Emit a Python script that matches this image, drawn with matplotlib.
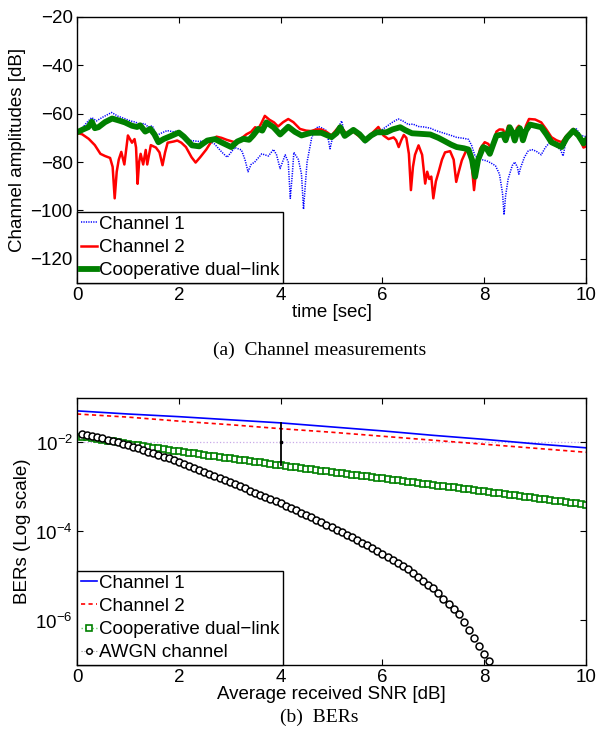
import numpy as np
import matplotlib
matplotlib.use('Agg')
import matplotlib.pyplot as plt

plt.rcParams['font.family'] = ['Liberation Sans', 'DejaVu Sans']
plt.rcParams['mathtext.fontset'] = 'custom'
plt.rcParams['mathtext.rm'] = 'Liberation Sans'
plt.rcParams['mathtext.it'] = 'Liberation Sans'
plt.rcParams['mathtext.default'] = 'rm'

ch1_t = [0.0, 0.1, 0.2, 0.29, 0.38, 0.5, 0.68, 0.8, 0.93, 1.05, 1.15, 1.24, 1.32, 1.4, 1.48,
         1.56, 1.66, 1.77, 1.9, 2.0, 2.1, 2.2, 2.4, 2.56, 2.7, 2.85, 2.95, 3.1, 3.23, 3.3,
         3.36, 3.42, 3.49, 3.63, 3.76, 3.86, 3.92, 3.99, 4.09, 4.15, 4.19, 4.23, 4.26, 4.35,
         4.41, 4.45, 4.49, 4.52, 4.61, 4.68, 4.74, 4.82, 4.9, 4.94, 4.97, 5.03, 5.1, 5.2,
         5.26, 5.35, 5.43, 5.55, 5.66, 5.78, 5.89, 6.0, 6.08, 6.2, 6.31, 6.4, 6.51, 6.6,
         6.71, 6.82, 6.94, 7.05, 7.2, 7.35, 7.46, 7.6, 7.69, 7.75, 7.82, 7.95, 8.05, 8.14,
         8.22, 8.3, 8.36, 8.39, 8.42, 8.47, 8.55, 8.6, 8.65, 8.68, 8.72, 8.79, 8.86, 8.93,
         9.02, 9.12, 9.2, 9.29, 9.36, 9.42, 9.5, 9.55, 9.6, 9.7, 9.8, 9.9, 10.0]
ch1_db = [-68, -66, -63.5, -61.6, -63, -61.5, -59.5, -61, -62, -63, -63.5, -64.5, -64, -65.5, -65,
          -69, -68, -67, -67.5, -67, -69, -71, -71.5, -71, -72.5, -76, -78, -74, -75, -79,
          -84, -81, -80, -76.6, -77.5, -74.8, -77, -82.7, -77, -80, -95, -85, -76, -79,
          -85, -99.5, -88, -80, -70, -66.5, -65.3, -66, -67, -71, -74.5, -69, -67, -63,
          -69, -68, -66.5, -69, -72, -69.5, -68, -66.5, -65.3, -63.5, -62.2, -63, -64.5, -64.3,
          -65.3, -65.5, -66, -67, -68, -69, -69.8, -70.2, -70.6, -73, -77.5, -79, -79.5, -80.5,
          -81.5, -85, -93, -101.8, -94, -87, -81.5, -80, -82, -85, -82, -78, -75.5, -74.8,
          -75.5, -77, -74, -71.8, -72.5, -73.5, -75, -77.5, -72, -67.5, -66, -69, -69.5]

ch2_t = [0.0, 0.1, 0.23, 0.35, 0.46, 0.55, 0.65, 0.7, 0.74, 0.78, 0.82, 0.87, 0.93, 1.0, 1.08,
         1.13, 1.16, 1.19, 1.22, 1.25, 1.3, 1.35, 1.38, 1.45, 1.55, 1.62, 1.68, 1.73, 1.78, 1.9,
         1.97, 2.05, 2.14, 2.25, 2.33, 2.42, 2.54, 2.64, 2.74, 2.84, 2.94, 3.05, 3.14, 3.24,
         3.33, 3.42, 3.5, 3.56, 3.62, 3.69, 3.78, 3.87, 3.95, 4.05, 4.15, 4.25, 4.38, 4.5,
         4.6, 4.7, 4.8, 4.9, 5.0, 5.1, 5.17, 5.3, 5.43, 5.55, 5.66, 5.8, 5.92, 6.02, 6.12,
         6.22, 6.27, 6.32, 6.37, 6.42, 6.47, 6.52, 6.56, 6.6, 6.64, 6.71, 6.78, 6.84, 6.88,
         6.92, 6.96, 7.0, 7.05, 7.1, 7.17, 7.23, 7.33, 7.4, 7.45, 7.5, 7.56, 7.63, 7.69, 7.75,
         7.8, 7.86, 7.92, 8.01, 8.08, 8.14, 8.19, 8.24, 8.3, 8.37, 8.42, 8.47, 8.53, 8.59,
         8.64, 8.68, 8.72, 8.76, 8.82, 8.88, 9.0, 9.12, 9.22, 9.32, 9.42, 9.52, 9.62, 9.75,
         9.85, 9.95, 10.0]
ch2_db = [-68, -68.5, -70.4, -73, -76.6, -77.5, -78.3, -82, -95, -84, -79, -75.8, -81, -69, -72,
          -70.5, -74, -89, -80, -76.6, -81, -75, -81, -73, -74, -76, -81.3, -76, -72, -71.5,
          -71.1, -72, -73.8, -78, -80.2, -78, -74.8, -71.5, -69.5, -70, -70.8, -71.5, -72, -70,
          -68.5, -67.5, -65.6, -66.3, -64, -60.9, -62.5, -63.6, -65.3, -63.5, -62.2, -63.5, -66.3, -67,
          -67.2, -66.5, -66.5, -67.5, -69, -66.5, -65, -68.5, -67.5, -69.5, -71.1, -68, -65.5, -69, -70.5,
          -69.8, -71, -73.8, -71, -68.8, -70, -76.6, -91.6, -82, -77, -73.1, -77, -88.9, -84,
          -87, -86, -95, -88, -84.4, -79, -76, -75.5, -79, -88.2, -84, -79.3, -76, -74.8, -80,
          -91.6, -80, -74.5, -71.8, -72.5, -74.6, -71, -67.4, -66.5, -66.6, -69, -65, -67, -71,
          -66, -65, -67, -70, -65, -62.2, -62.4, -63.6, -66.5, -69.7, -71, -71.8, -69, -66.3,
          -69, -74, -73.5]

coop_t = [0.0, 0.12, 0.22, 0.29, 0.35, 0.42, 0.55, 0.69, 0.82, 0.94, 1.08, 1.18, 1.24, 1.34,
          1.44, 1.52, 1.6, 1.7, 1.87, 2.0, 2.1, 2.26, 2.4, 2.56, 2.71, 2.85, 3.03, 3.15, 3.27,
          3.38, 3.46, 3.56, 3.64, 3.72, 3.86, 3.99, 4.15, 4.28, 4.41, 4.6, 4.8, 4.9, 5.0, 5.1,
          5.17, 5.26, 5.43, 5.55, 5.66, 5.78, 5.89, 6.08, 6.2, 6.35, 6.45, 6.58, 6.94, 7.1, 7.2,
          7.35, 7.46, 7.6, 7.69, 7.76, 7.82, 7.88, 7.98, 8.05, 8.11, 8.18, 8.24, 8.37, 8.42, 8.5,
          8.55, 8.6, 8.65, 8.7, 8.73, 8.76, 8.82, 8.9, 9.12, 9.22, 9.32, 9.52, 9.62, 9.75, 9.85,
          9.95, 10.0]
coop_db = [-67.7, -66.5, -65.6, -63.3, -66, -65.6, -63.5, -62, -62.8, -63.6, -65, -65.5, -64.8, -67.4,
           -66.3, -68.5, -71.8, -70.5, -69, -67.8, -69.5, -73.1, -73.5, -71.1, -70.5, -72, -73.8, -71.5, -70.4,
           -70.8, -69, -66.3, -67, -63.6, -65.6, -68.6, -65.4, -67.5, -69, -67.9, -67.9, -68.8, -69.7, -68,
           -65.6, -69.2, -66.7, -68.5, -71.1, -69, -67.7, -67.7, -66.5, -65.6, -66.8, -68.1, -68.6, -70, -71.1,
           -72.8, -73.8, -74.3, -74.8, -79, -86.1, -79, -73.8, -74.5, -76.6, -72.5, -69.1, -68.5, -71, -65.6,
           -67.5, -71.1, -67.5, -66, -68, -71, -67, -64.5, -65.6, -68.5, -71.8, -73.8, -70, -67, -69,
           -72.3, -71]

# ---- (b) BERs (log10 of BER) ----
snr_line = [0, 1, 2, 3, 4, 5, 6, 7, 8, 9, 10]
ch1_log_ber = [-1.29, -1.36, -1.42, -1.49, -1.56, -1.65, -1.74, -1.84, -1.93, -2.03, -2.12]
ch2_log_ber = [-1.36, -1.43, -1.52, -1.60, -1.69, -1.77, -1.86, -1.95, -2.04, -2.13, -2.22]

coop_snr = [round(0.1 * k, 1) for k in range(1, 101)]
coop_log_ber = [
    -1.870, -1.888, -1.906, -1.924, -1.942, -1.960, -1.978, -1.996, -2.014, -2.032,
    -2.049, -2.065, -2.082, -2.098, -2.115, -2.131, -2.148, -2.164, -2.181, -2.197,
    -2.213, -2.229, -2.245, -2.261, -2.277, -2.293, -2.309, -2.325, -2.341, -2.357,
    -2.373, -2.388, -2.404, -2.419, -2.435, -2.450, -2.466, -2.481, -2.497, -2.512,
    -2.527, -2.542, -2.557, -2.572, -2.587, -2.602, -2.617, -2.632, -2.647, -2.662,
    -2.677, -2.691, -2.706, -2.720, -2.735, -2.749, -2.764, -2.778, -2.793, -2.807,
    -2.822, -2.836, -2.851, -2.865, -2.880, -2.894, -2.909, -2.923, -2.938, -2.952,
    -2.967, -2.981, -2.996, -3.010, -3.025, -3.039, -3.054, -3.068, -3.083, -3.097,
    -3.112, -3.127, -3.142, -3.157, -3.172, -3.187, -3.202, -3.217, -3.232, -3.247,
    -3.262, -3.277, -3.292, -3.307, -3.322, -3.337, -3.352, -3.367, -3.382, -3.397]

awgn_snr = [round(0.1 * k, 1) for k in range(1, 82)]
awgn_log_ber = [
    -1.800, -1.828, -1.855, -1.883, -1.910, -1.940, -1.970, -2.000, -2.030, -2.060,
    -2.096, -2.132, -2.168, -2.204, -2.240, -2.280, -2.320, -2.360, -2.400, -2.440,
    -2.484, -2.528, -2.572, -2.616, -2.660, -2.706, -2.752, -2.798, -2.844, -2.890,
    -2.938, -2.986, -3.034, -3.082, -3.130, -3.178, -3.226, -3.274, -3.322, -3.370,
    -3.422, -3.474, -3.526, -3.578, -3.630, -3.684, -3.738, -3.792, -3.846, -3.900,
    -3.958, -4.016, -4.074, -4.132, -4.190, -4.252, -4.314, -4.376, -4.438, -4.500,
    -4.570, -4.640, -4.710, -4.780, -4.850, -4.936, -5.022, -5.108, -5.194, -5.280,
    -5.394, -5.508, -5.622, -5.736, -5.850, -6.030, -6.210, -6.400, -6.580, -6.750,
    -6.920]

gap_snr = 4
gap_ber = [2.72e-2, 1.0e-2, 3.1e-3]   # top, middle marker, bottom
ref_level = 1e-2


def style_axes(ax):
    ax.tick_params(direction='in', top=True, right=True, length=4, width=0.8,
                   labelsize=13.5, pad=3)
    for sp in ax.spines.values():
        sp.set_linewidth(1.0)


def make_legend(ax):
    leg = ax.legend(loc='lower left', borderaxespad=0, fontsize=13.5, handlelength=0.85,
                    handletextpad=0.1, borderpad=0.2, labelspacing=0.32, fancybox=False,
                    framealpha=1, edgecolor='black')
    leg.get_frame().set_linewidth(1.0)
    return leg


fig = plt.figure(figsize=(5.97, 7.40), dpi=100)

# ---------------- (a) ----------------
ax1 = fig.add_axes([0.129, 0.6176, 0.8526, 0.3595])
ax1.plot(ch1_t, ch1_db, color='#0000ff', lw=1.1, dashes=(0.8, 0.8), label='Channel 1')
ax1.plot(ch2_t, ch2_db, '-', color='#ff0000', lw=1.8, label='Channel 2')
ax1.plot(coop_t, coop_db, '-', color='#008000', lw=4.2, label='Cooperative dual\u2212link')
ax1.set_xlim(0, 10)
ax1.set_ylim(-130, -20)
ax1.set_xticks(range(0, 11, 2))
ax1.set_yticks(range(-120, 0, 20))
ax1.set_yticklabels(['\u2212120', '\u2212100', '\u221280', '\u221260', '\u221240', '\u221220'])
style_axes(ax1)
ax1.set_xlabel('time [sec]', fontsize=13.5, labelpad=0)
ax1.set_ylabel('Channel amplitudes [dB]', fontsize=13.5, labelpad=3)
make_legend(ax1)
fig.text(0.535, 0.527, '(a)  Channel measurements', ha='center', va='center',
         fontsize=14, family=['Liberation Serif', 'DejaVu Serif'])

# ---------------- (b) ----------------
ax2 = fig.add_axes([0.129, 0.1014, 0.8526, 0.3608])
ax2.plot(snr_line, 10.0 ** np.array(ch1_log_ber), '-', color='#0000ff', lw=1.2, label='Channel 1')
ax2.plot(snr_line, 10.0 ** np.array(ch2_log_ber), '--', color='#ff0000', lw=1.2,
         dashes=(2.5, 2), label='Channel 2')
ax2.plot(coop_snr, 10.0 ** np.array(coop_log_ber), ':', color='#66cc66', lw=1.0,
         marker='s', ms=5.0, mfc='white', mec='#008000', mew=1.2, label='Cooperative dual\u2212link')
ax2.plot(awgn_snr, 10.0 ** np.array(awgn_log_ber), ':', color='#888888', lw=0.8,
         marker='o', ms=5.0, mfc='white', mec='black', mew=1.1, label='AWGN channel')
ax2.axhline(ref_level, color='#c8a8e8', ls=':', lw=0.9, zorder=1)
ax2.plot([gap_snr, gap_snr], [gap_ber[0], gap_ber[2]], '-', color='black', lw=1.3, zorder=4)
ax2.plot([gap_snr], [gap_ber[1]], 's', color='black', ms=1.8, zorder=5)
ax2.set_yscale('log')
ax2.set_xlim(0, 10)
ax2.set_ylim(1e-7, 1e-1)
ax2.set_xticks(range(0, 11, 2))
ax2.set_yticks([1e-6, 1e-4, 1e-2])
ax2.set_yticklabels([r'$10^{-6}$', r'$10^{-4}$', r'$10^{-2}$'])
ax2.minorticks_off()
style_axes(ax2)
ax2.set_xlabel('Average received SNR [dB]', fontsize=13.5, labelpad=0)
ax2.set_ylabel('BERs (Log scale)', fontsize=13.5, labelpad=3)
leg2 = make_legend(ax2)
for h in leg2.legend_handles:
    h.set_markersize(4)
fig.text(0.535, 0.030, '(b)  BERs', ha='center', va='center',
         fontsize=14, family=['Liberation Serif', 'DejaVu Serif'])

fig.savefig('out.png', dpi=100)
